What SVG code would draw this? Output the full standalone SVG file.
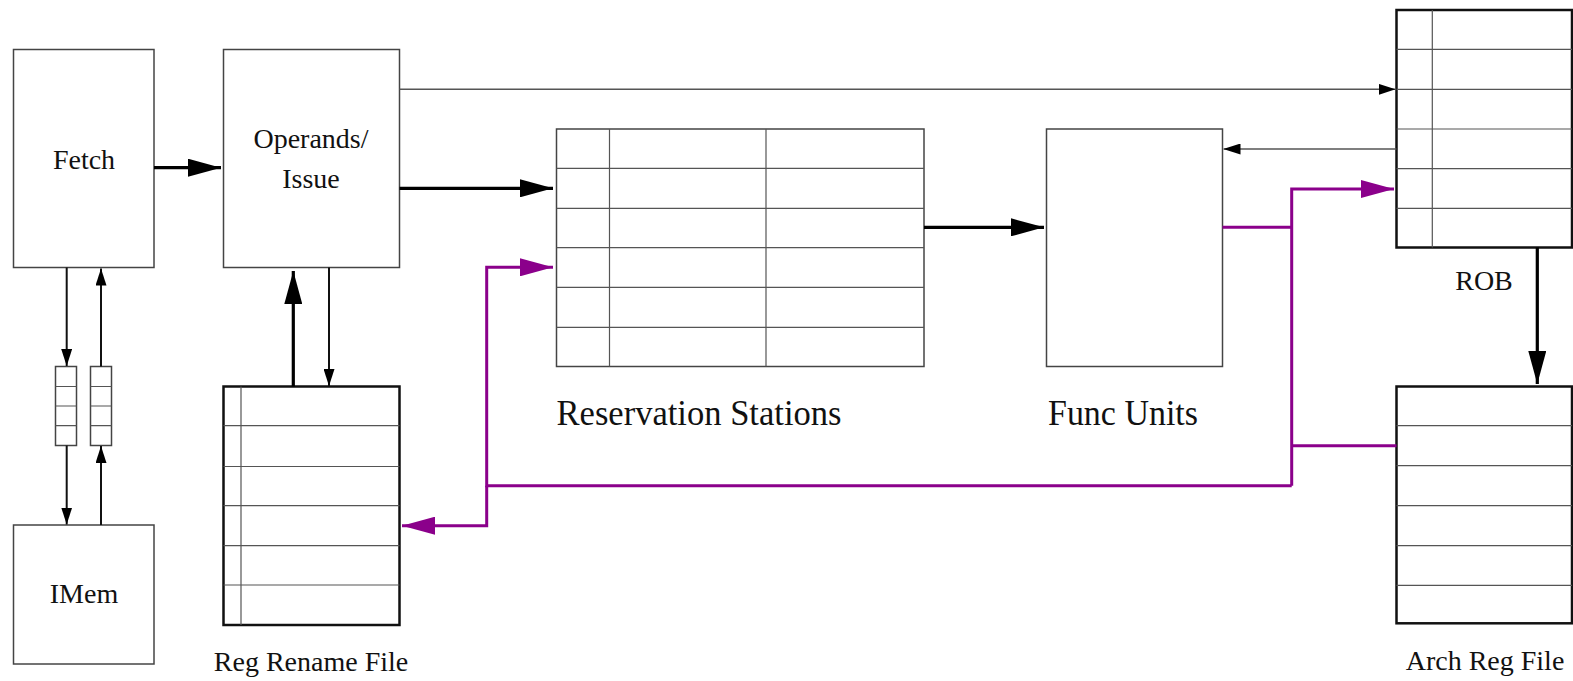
<svg xmlns="http://www.w3.org/2000/svg" width="1573" height="681" viewBox="0 0 1573 681">
  <style>
    .box { fill: #fff; stroke: #444; stroke-width: 1.5; }
    .tbl { fill: #fff; stroke: #111; stroke-width: 2.5; }
    .grid { stroke: #555; stroke-width: 1.2; fill: none; }
    .lbl { font-family: "Liberation Serif", "Times New Roman", serif; font-size: 28px; fill: #111; }
    .big { font-family: "Liberation Serif", "Times New Roman", serif; font-size: 35px; fill: #111; }
    .thick { stroke: #000; stroke-width: 3.2; fill: none; }
    .thin { stroke: #111; stroke-width: 2; fill: none; }
    .hair { stroke: #555; stroke-width: 1.6; fill: none; }
    .bus { stroke: #8b008b; stroke-width: 3; fill: none; }
  </style>
  <defs>
    <marker id="ahBig" markerUnits="userSpaceOnUse" viewBox="0 -9 33 18" markerWidth="33" markerHeight="18" refX="33" refY="0" orient="auto">
      <path d="M0,-9 L33,0 L0,9 z" fill="#000"/>
    </marker>
    <marker id="ahSmall" markerUnits="userSpaceOnUse" viewBox="0 -5.5 17 11" markerWidth="17" markerHeight="11" refX="17" refY="0" orient="auto">
      <path d="M0,-5.5 L17,0 L0,5.5 z" fill="#000"/>
    </marker>
    <marker id="ahBus" markerUnits="userSpaceOnUse" viewBox="0 -9 33 18" markerWidth="33" markerHeight="18" refX="33" refY="0" orient="auto">
      <path d="M0,-9 L33,0 L0,9 z" fill="#8b008b"/>
    </marker>
  </defs>

  <rect width="1573" height="681" fill="#fff"/>

  <!-- Fetch stage -->
  <g id="fetch">
    <rect class="box" x="13.5" y="49.5" width="140.5" height="218"/>
    <text class="lbl" x="84" y="169" text-anchor="middle">Fetch</text>
  </g>

  <!-- Operand read / issue -->
  <g id="issue">
    <rect class="box" x="223.5" y="49.5" width="176" height="218"/>
    <text class="lbl" x="311" y="148" text-anchor="middle">Operands/</text>
    <text class="lbl" x="311" y="188" text-anchor="middle">Issue</text>
  </g>

  <!-- Fetch request / response queues -->
  <g id="req-queue">
    <rect class="box" x="55.5" y="366.5" width="21" height="79"/>
    <path class="grid" d="M55.5,386.5 H76.5 M55.5,406 H76.5 M55.5,425.7 H76.5"/>
  </g>
  <g id="resp-queue">
    <rect class="box" x="90.5" y="366.5" width="21" height="79"/>
    <path class="grid" d="M90.5,386.5 H111.5 M90.5,406 H111.5 M90.5,425.7 H111.5"/>
  </g>

  <!-- Instruction memory -->
  <g id="imem">
    <rect class="box" x="13.5" y="525" width="140.5" height="139"/>
    <text class="lbl" x="84" y="603" text-anchor="middle">IMem</text>
  </g>

  <!-- Register rename file -->
  <g id="rename-file">
    <rect class="tbl" x="223.5" y="386.5" width="176" height="238.5"/>
    <path class="grid" d="M241,386.5 V625 M223.5,425.7 H399.5 M223.5,466.5 H399.5 M223.5,505.7 H399.5 M223.5,545.7 H399.5 M223.5,585 H399.5"/>
    <text class="lbl" x="311" y="671" text-anchor="middle">Reg Rename File</text>
  </g>

  <!-- Reservation stations -->
  <g id="reservation-stations">
    <rect class="box" x="556.5" y="129" width="367.5" height="237.5"/>
    <path class="grid" d="M609.5,129 V366.5 M766,129 V366.5 M556.5,168.3 H924 M556.5,208.3 H924 M556.5,247.7 H924 M556.5,287.3 H924 M556.5,327.3 H924"/>
    <text class="big" x="556.5" y="425" textLength="285" lengthAdjust="spacingAndGlyphs">Reservation Stations</text>
  </g>

  <!-- Functional units -->
  <g id="func-units">
    <rect class="box" x="1046.5" y="129" width="176" height="237.5"/>
    <text class="big" x="1048" y="425" textLength="150" lengthAdjust="spacingAndGlyphs">Func Units</text>
  </g>

  <!-- Reorder buffer -->
  <g id="rob">
    <rect class="tbl" x="1396.5" y="10" width="175.5" height="237.5"/>
    <path class="grid" d="M1432.3,10 V247.5 M1396.5,49.3 H1572 M1396.5,89.3 H1572 M1396.5,129 H1572 M1396.5,168.7 H1572 M1396.5,208.3 H1572"/>
    <text class="lbl" x="1484" y="290" text-anchor="middle">ROB</text>
  </g>

  <!-- Architectural register file -->
  <g id="arch-reg-file">
    <rect class="tbl" x="1396.5" y="386.5" width="175.5" height="236.8"/>
    <path class="grid" d="M1396.5,425.7 H1572 M1396.5,465.7 H1572 M1396.5,505.7 H1572 M1396.5,545.7 H1572 M1396.5,585.3 H1572"/>
    <text class="lbl" x="1485" y="670" text-anchor="middle">Arch Reg File</text>
  </g>

  <!-- Connectors -->
  <g id="connectors">
    <!-- main pipeline flow -->
    <path class="thick" d="M154,167.7 H221" marker-end="url(#ahBig)"/>
    <path class="thick" d="M399.5,188.3 H553" marker-end="url(#ahBig)"/>
    <path class="thick" d="M924,227.3 H1044" marker-end="url(#ahBig)"/>
    <path class="thick" d="M293.3,386.5 V271" marker-end="url(#ahBig)"/>
    <path class="thick" d="M1537.3,247.5 V384" marker-end="url(#ahBig)"/>

    <!-- issue to ROB, ROB to functional units, rename lookup -->
    <path class="hair" d="M399.5,89.3 H1395.5" marker-end="url(#ahSmall)"/>
    <path class="hair" d="M1396.5,149 H1223.5" marker-end="url(#ahSmall)"/>
    <path class="thin" d="M329,267.5 V386" marker-end="url(#ahSmall)"/>

    <!-- fetch / memory traffic through the queues -->
    <path class="thin" d="M66.7,267.5 V366" marker-end="url(#ahSmall)"/>
    <path class="thin" d="M101,366.5 V268.5" marker-end="url(#ahSmall)"/>
    <path class="thin" d="M66.7,445.5 V524.5" marker-end="url(#ahSmall)"/>
    <path class="thin" d="M101,525 V446" marker-end="url(#ahSmall)"/>

    <!-- result / commit bus -->
    <path class="bus" d="M1222.5,227.3 H1291.7"/>
    <path class="bus" d="M1291.7,485.7 V189 H1394" marker-end="url(#ahBus)"/>
    <path class="bus" d="M1396.5,445.7 H1291.7"/>
    <path class="bus" d="M1291.7,485.7 H486.7 V267.3 H553" marker-end="url(#ahBus)"/>
    <path class="bus" d="M486.7,485.7 V525.7 H402" marker-end="url(#ahBus)"/>
  </g>
</svg>
